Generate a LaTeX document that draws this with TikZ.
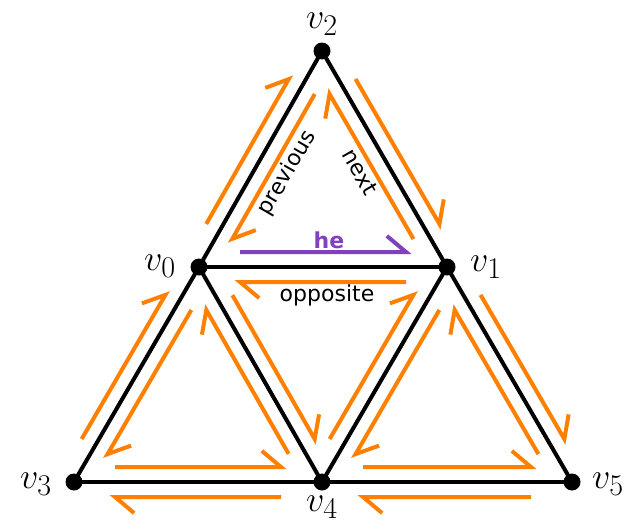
\documentclass[tikz,border=0pt]{standalone}
\usepackage{fontspec}
\newfontfamily\labelfont{DejaVu Sans}
\usetikzlibrary{calc}
\definecolor{heorange}{RGB}{255,127,0}
\definecolor{hepurple}{RGB}{128,64,192}
\tikzset{
  edge/.style={line width=4pt, black},
  vert/.style={circle, fill=black, inner sep=0pt, minimum size=17pt},
  vlabel/.style={font=\Huge, scale=1.45, inner sep=0pt},
  hlabel/.style={font=\labelfont\fontsize{22}{26}\selectfont, inner sep=0pt},
  half/.style={line width=4pt, heorange, line join=miter},
}
\newcommand\hedge[3][half]{%
  \path ($(#2)!41pt!(#3)$) coordinate (hp1) ($(#3)!41pt!(#2)$) coordinate (hp2);
  \path ($(hp1)!15pt!90:(hp2)$) coordinate (hq1) ($(hp2)!15pt!-90:(hp1)$) coordinate (hq2);
  \draw[#1] (hq1) -- (hq2) -- ($(hq2)!25pt!-40:(hq1)$);
}
\begin{document}
\begin{tikzpicture}[x=1pt,y=-1pt]
\useasboundingbox (0,0) rectangle (627,525);
% vertices
\node[vert] (v2) at (322,51) {};
\node[vert] (v0) at (199,267) {};
\node[vert] (v1) at (447,267) {};
\node[vert] (v3) at (74,482) {};
\node[vert] (v4) at (322,482) {};
\node[vert] (v5) at (572,482) {};
% edges
\draw[edge] (v0.center) -- (v1.center);
\draw[edge] (v0.center) -- (v2.center);
\draw[edge] (v1.center) -- (v2.center);
\draw[edge] (v0.center) -- (v3.center);
\draw[edge] (v0.center) -- (v4.center);
\draw[edge] (v1.center) -- (v4.center);
\draw[edge] (v1.center) -- (v5.center);
\draw[edge] (v3.center) -- (v4.center);
\draw[edge] (v4.center) -- (v5.center);
% half-edges
\hedge[half,hepurple]{v0}{v1}
\hedge{v1}{v2}
\hedge{v2}{v0}
\hedge{v0}{v4}
\hedge{v4}{v1}
\hedge{v1}{v0}
\hedge{v3}{v4}
\hedge{v4}{v0}
\hedge{v0}{v3}
\hedge{v4}{v5}
\hedge{v5}{v1}
\hedge{v1}{v4}
\hedge{v0}{v2}
\hedge{v2}{v1}
\hedge{v1}{v5}
\hedge{v5}{v4}
\hedge{v4}{v3}
\hedge{v3}{v0}
% vertex labels
\node[vlabel] (lv2) at (322,24) {$v_2$};
\node[vlabel] (lv0) at (160,266) {$v_0$};
\node[vlabel] (lv1) at (486,267) {$v_1$};
\node[vlabel] (lv3) at (36,484) {$v_3$};
\node[vlabel] (lv5) at (608,484) {$v_5$};
\node[vlabel] (lv4) at (322,507) {$v_4$};
% half-edge labels
\node[hlabel, rotate=60] (lprev) at (287,173) {previous};
\node[hlabel, rotate=-60] (lnext) at (360,172) {next};
\node[hlabel, text=hepurple, font=\labelfont\bfseries\fontsize{22}{26}\selectfont] (lhe) at (329,240) {he};
\node[hlabel] (lopp) at (327,295) {opposite};
\end{tikzpicture}
\end{document}
